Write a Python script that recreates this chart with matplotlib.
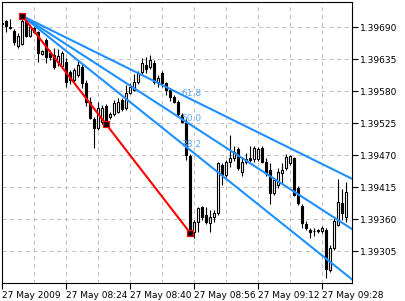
import numpy as np
import matplotlib
matplotlib.use("Agg")
import matplotlib.pyplot as plt
from matplotlib.ticker import FixedLocator, FuncFormatter

# 1-minute bars, 27 May 2009 08:08 .. 09:34 (prices in points, 1e-5)
opens = [139697, 139700, 139690, 139683, 139657, 139661, 139704, 139675, 139688, 139681,
         139644, 139668, 139645, 139642, 139630, 139623, 139630, 139613, 139599, 139607,
         139621, 139594, 139561, 139532, 139516, 139527, 139554, 139535, 139540, 139544,
         139565, 139551, 139577, 139582, 139595, 139613, 139625, 139621, 139628, 139594,
         139611, 139594, 139582, 139570, 139561, 139539, 139525, 139468, 139338, 139355,
         139381, 139367, 139353, 139363, 139370, 139453, 139436, 139458, 139465, 139480,
         139441, 139458, 139465, 139463, 139463, 139482, 139458, 139444, 139405, 139418,
         139439, 139448, 139456, 139465, 139413, 139382, 139351, 139341, 139339, 139341,
         139339, 139341, 139272, 139310, 139350, 139388, 139363]
highs = [139702, 139702, 139704, 139687, 139680, 139709, 139707, 139693, 139690, 139683,
         139650, 139671, 139650, 139654, 139652, 139649, 139637, 139616, 139620, 139633,
         139626, 139599, 139570, 139535, 139561, 139556, 139558, 139544, 139565, 139568,
         139568, 139590, 139594, 139609, 139614, 139637, 139638, 139642, 139633, 139607,
         139614, 139595, 139585, 139573, 139565, 139542, 139534, 139472, 139358, 139381,
         139382, 139381, 139375, 139375, 139458, 139456, 139461, 139504, 139485, 139484,
         139467, 139473, 139485, 139485, 139484, 139485, 139465, 139456, 139430, 139448,
         139456, 139472, 139470, 139467, 139417, 139386, 139357, 139345, 139345, 139343,
         139348, 139345, 139315, 139362, 139429, 139412, 139424]
lows = [139693, 139681, 139687, 139659, 139654, 139659, 139673, 139673, 139680, 139630,
        139642, 139628, 139633, 139618, 139623, 139621, 139587, 139592, 139595, 139604,
        139585, 139554, 139532, 139482, 139513, 139523, 139520, 139532, 139537, 139542,
        139546, 139547, 139575, 139580, 139592, 139609, 139611, 139618, 139592, 139587,
        139587, 139573, 139563, 139559, 139537, 139525, 139461, 139336, 139327, 139338,
        139358, 139351, 139338, 139355, 139367, 139418, 139432, 139449, 139460, 139444,
        139434, 139455, 139458, 139458, 139460, 139456, 139434, 139386, 139401, 139413,
        139422, 139444, 139453, 139400, 139384, 139345, 139341, 139327, 139331, 139336,
        139336, 139259, 139269, 139307, 139348, 139358, 139355]
closes = [139696, 139692, 139688, 139664, 139675, 139700, 139675, 139690, 139681, 139645,
          139649, 139638, 139638, 139621, 139640, 139645, 139595, 139599, 139616, 139625,
          139594, 139561, 139534, 139516, 139551, 139551, 139527, 139540, 139559, 139561,
          139549, 139577, 139587, 139595, 139611, 139628, 139618, 139633, 139595, 139602,
          139594, 139582, 139570, 139561, 139540, 139527, 139470, 139338, 139355, 139379,
          139363, 139355, 139363, 139370, 139456, 139436, 139458, 139465, 139475, 139448,
          139458, 139463, 139461, 139482, 139480, 139458, 139439, 139405, 139427, 139441,
          139444, 139467, 139468, 139401, 139388, 139353, 139345, 139338, 139340, 139339,
          139345, 139274, 139310, 139357, 139389, 139370, 139406]

price_ticks = [1.39305, 1.39360, 1.39415, 1.39470, 1.39525, 1.39580, 1.39635, 1.39690]
time_labels = ["27 May 2009", "27 May 08:24", "27 May 08:40",
               "27 May 08:56", "27 May 09:12", "27 May 09:28"]
fib_levels = [0.382, 0.5, 0.618]
fan_start = 5    # bar of the high
fan_end = 47     # bar of the low

o = np.array(opens) / 1e5
h = np.array(highs) / 1e5
l = np.array(lows) / 1e5
c = np.array(closes) / 1e5
idx = np.arange(len(o))

fig = plt.figure(figsize=(4.05, 3.01), dpi=100)
ax = fig.add_axes([2 / 405, 18 / 301, 350 / 405, 281 / 301])

# grid
for p in price_ticks:
    ax.axhline(p, color="#c0c0c0", lw=0.7, ls=(0, (4, 4)), zorder=0)
for b in range(0, 88, 8):
    ax.axvline(b, color="#c0c0c0", lw=0.7, ls=(0, (4, 4)), zorder=0)

# candles
ax.vlines(idx, l, h, color="black", lw=0.8, zorder=2)
up = c >= o
ax.bar(idx[up], (c - o)[up], bottom=o[up], width=0.5, color="white",
       edgecolor="black", linewidth=0.8, zorder=3)
ax.bar(idx[~up], (o - c)[~up], bottom=c[~up], width=0.5, color="black",
       edgecolor="black", linewidth=0.8, zorder=3)

# fibonacci fan
p1 = h[fan_start]
p2 = l[fan_end]
x_right = 87.5
for lv in fib_levels:
    target = p2 + lv * (p1 - p2)
    slope = (target - p1) / (fan_end - fan_start)
    ax.plot([fan_start, x_right], [p1, p1 + slope * (x_right - fan_start)],
            color="#1e90ff", lw=1.5, zorder=4)
    ax.annotate("%.1f" % (lv * 100), xy=(fan_end - 2.2, target), xytext=(0, 4),
                textcoords="offset points", ha="left", va="center",
                fontsize=6.5, color="#5aaaf5", zorder=5)

ax.plot([fan_start, fan_end], [p1, p2], color="red", lw=1.5, zorder=5)
mid = (fan_start + fan_end) / 2
ax.plot([fan_start, mid, fan_end], [p1, (p1 + p2) / 2, p2], ls="none",
        marker="s", ms=4, mfc="black", mec="red", mew=0.9, zorder=6)

ax.set_xlim(-0.1, x_right)
ax.set_ylim(1.39250, 1.39733)

ax.yaxis.tick_right()
ax.set_yticks(price_ticks)
ax.yaxis.set_major_formatter(FuncFormatter(lambda v, pos: "%.5f" % v))
ax.set_xticks(range(0, 81, 16))
ax.set_xticklabels(time_labels)
for t in ax.get_xticklabels():
    t.set_horizontalalignment("left")
ax.tick_params(axis="both", direction="out", length=4, width=0.8,
               labelsize=6.5, colors="black", pad=1.5)
ax.tick_params(axis="x", pad=2)
for s in ax.spines.values():
    s.set_linewidth(0.8)
    s.set_color("black")

fig.savefig("out.png", dpi=100)
